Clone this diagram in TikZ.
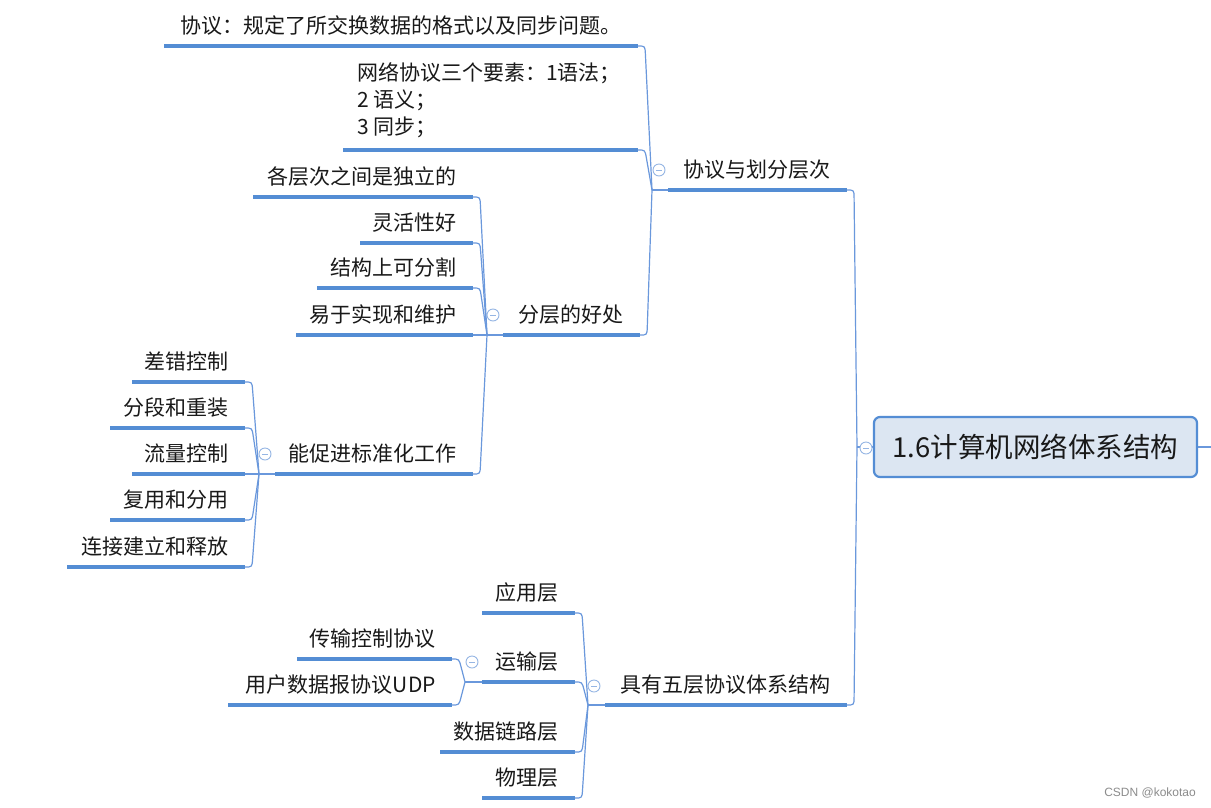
\documentclass[tikz,border=0pt]{standalone}
\usepackage{fontspec}
\setmainfont{Noto Sans CJK SC}
\newfontfamily\wmfont{Liberation Sans}
\usetikzlibrary{calc}
\definecolor{ulc}{RGB}{84,141,212}
\definecolor{cnc}{RGB}{106,152,220}
\definecolor{ccc}{RGB}{150,182,228}
\definecolor{rootfill}{RGB}{220,230,242}
\definecolor{txc}{RGB}{25,25,25}
\tikzset{
  txt/.style={font=\fontsize{21}{27}\selectfont, inner sep=0pt, text=txc},
  uline/.style={draw=ulc, line width=3.3pt},
  conn/.style={draw=cnc, line width=1.2pt},
  collapse/.style={circle, draw=ccc, fill=white, line width=0.9pt, minimum size=12pt, inner sep=0pt,
    path picture={\draw[ccc, line width=0.9pt] ($(path picture bounding box.west)+(3,0)$) -- ($(path picture bounding box.east)+(-3,0)$);}},
  rootbox/.style={draw=ulc, fill=rootfill, line width=2.2pt, rounded corners=6pt, minimum width=323pt, minimum height=60pt, inner sep=0pt,
    font=\fontsize{27.5}{32}\selectfont, text=txc}
}
\newcommand\topic[5]{%
  \coordinate (#1-l) at (#2,#4);
  \coordinate (#1-r) at (#3,#4);
  \node[txt, anchor=base east] (#1) at (#3-16,#4-12.5) {#5};
  \draw[uline] (#1-l) -- (#1-r);
}
\newcommand\link[2]{% parent, child
  \path (#2-r) ++(7,0) coordinate (tmpk);
  \draw[conn] (#2-r) .. controls (tmpk) .. ($(tmpk)!8pt!(#1-j)$) -- (#1-j);
}
\begin{document}
\begin{tikzpicture}[x=1pt, y=-1pt]
\useasboundingbox[fill=white] (0,0) rectangle (1211,807);

% root
\node[rootbox] (root) at (1035.5,447) {1.6计算机网络体系结构};
\coordinate (root-j) at (857,447);
\coordinate (rend) at (1211,447);
\draw[conn] (root.east) -- (rend);

% level 1
\topic{A}{668}{847}{190}{协议与划分层次}
\topic{B}{605}{847}{705}{具有五层协议体系结构}
\coordinate (A-j) at (652,190);
\coordinate (B-j) at (588,705);

% children of A
\topic{A1}{164}{638}{46}{协议：规定了所交换数据的格式以及同步问题。}
\coordinate (A2-l) at (343,150);
\coordinate (A2-r) at (638,150);
\node[txt, anchor=west, align=left] (A2) at (357,100) {网络协议三个要素：1语法；\\2 语义；\\3 同步；};
\draw[uline] (A2-l) -- (A2-r);
\topic{A3}{503}{640}{335}{分层的好处}
\coordinate (A3-j) at (487,335);

% children of A3
\topic{A31}{253}{473}{197}{各层次之间是独立的}
\topic{A32}{360}{473}{243}{灵活性好}
\topic{A33}{317}{473}{288}{结构上可分割}
\topic{A34}{296}{473}{335}{易于实现和维护}
\topic{A35}{275}{473}{474}{能促进标准化工作}
\coordinate (A35-j) at (259,474);

% children of A35
\topic{S1}{132}{245}{382}{差错控制}
\topic{S2}{110}{245}{428}{分段和重装}
\topic{S3}{132}{245}{474}{流量控制}
\topic{S4}{110}{245}{520}{复用和分用}
\topic{S5}{67}{245}{567}{连接建立和释放}

% children of B
\topic{B1}{482}{575}{613}{应用层}
\topic{B2}{482}{575}{682}{运输层}
\topic{B3}{440}{575}{752}{数据链路层}
\topic{B4}{482}{575}{798}{物理层}
\coordinate (B2-j) at (465,682);

% children of B2
\topic{T1}{297}{452}{659}{传输控制协议}
\topic{T2}{228}{452}{705}{用户数据报协议UDP}

% stems
\draw[conn] (root-j) -- (root.west);
\draw[conn] (A-j) -- (A-l);
\draw[conn] (B-j) -- (B-l);
\draw[conn] (A3-j) -- (A3-l);
\draw[conn] (A35-j) -- (A35-l);
\draw[conn] (B2-j) -- (B2-l);

% connectors
\link{root}{A}
\link{root}{B}
\link{A}{A1}
\link{A}{A2}
\link{A}{A3}
\link{A3}{A31}
\link{A3}{A32}
\link{A3}{A33}
\link{A3}{A34}
\link{A3}{A35}
\link{A35}{S1}
\link{A35}{S2}
\link{A35}{S3}
\link{A35}{S4}
\link{A35}{S5}
\link{B}{B1}
\link{B}{B2}
\link{B}{B3}
\link{B}{B4}
\link{B2}{T1}
\link{B2}{T2}

% collapse markers
\node[collapse] (c-root) at (866,448) {};
\node[collapse] (c-A) at ($(A-j)+(7,-20)$) {};
\node[collapse] (c-A3) at ($(A3-j)+(6,-20)$) {};
\node[collapse] (c-A35) at ($(A35-j)+(6,-20)$) {};
\node[collapse] (c-B) at ($(B-j)+(6,-19)$) {};
\node[collapse] (c-B2) at ($(B2-j)+(7,-20)$) {};

% watermark
\node[font=\wmfont\fontsize{12}{14}\selectfont, text=black!45, anchor=base east, inner sep=0pt] (wm) at (1196,796) {CSDN @kokotao};
\end{tikzpicture}
\end{document}
